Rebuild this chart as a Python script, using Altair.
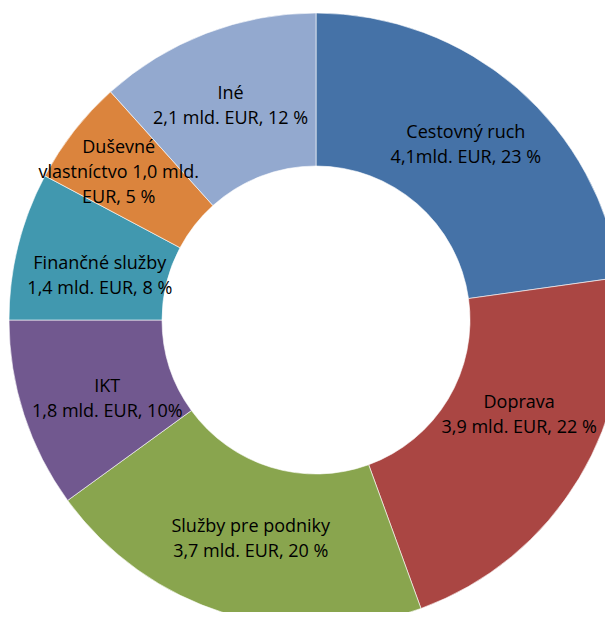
import altair as alt
import pandas as pd

categories = ["Cestovný ruch", "Doprava", "Služby pre podniky", "IKT",
              "Finančné služby", "Duševné vlastníctvo", "Iné"]
values = [4.1, 3.9, 3.7, 1.8, 1.4, 1.0, 2.1]
labels = [
    "Cestovný ruch\n4,1mld. EUR, 23 %",
    "Doprava\n3,9 mld. EUR, 22 %",
    "Služby pre podniky\n3,7 mld. EUR, 20 %",
    "IKT\n1,8 mld. EUR, 10%",
    "Finančné služby\n1,4 mld. EUR, 8 %",
    "Duševné\nvlastníctvo 1,0 mld.\nEUR, 5 %",
    "Iné\n2,1 mld. EUR, 12 %",
]
colors = ["#4572A7", "#AA4643", "#89A54E", "#71588F", "#4198AF", "#DB843D", "#93A9CF"]

df = pd.DataFrame({"cat": categories, "val": values, "label": labels,
                   "order": list(range(len(categories)))})

base = alt.Chart(df).encode(
    theta=alt.Theta("val:Q", stack=True),
    order=alt.Order("order:Q"),
    x=alt.value(308),
    y=alt.value(312),
)

arcs = base.mark_arc(outerRadius=307, innerRadius=154, stroke="white", strokeWidth=0.6).encode(
    color=alt.Color("cat:N", scale=alt.Scale(domain=categories, range=colors), legend=None)
)

# label nudges (pixels) relative to the slice's mid-angle anchor
nudges = {
    "Cestovný ruch": (-1, -1),
    "Doprava": (6, -23),
    "Služby pre podniky": (2, 0),
    "IKT": (10, 8),
    "Finančné služby": (7, 12),
    "Duševné vlastníctvo": (-16, -5),
    "Iné": (-3, 1),
}
line_h = 25
layers = [arcs]
for cat, lab in zip(categories, labels):
    ndx, ndy = nudges[cat]
    n_lines = lab.count("\n") + 1
    t = base.mark_text(radius=230, lineBreak="\n", fontSize=18, lineHeight=line_h,
                       font="Open Sans", color="black", align="center",
                       baseline="middle", dx=ndx,
                       dy=ndy - (n_lines - 1) * line_h / 2).encode(
        text=alt.condition(alt.datum.cat == cat, "label:N", alt.value(""))
    )
    layers.append(t)

chart = alt.layer(*layers).properties(
    width=597, height=604,
    autosize=alt.AutoSizeParams(type="none"),
    padding=0,
).configure_view(stroke=None)

chart.save("out.html", embed_options={"renderer": "svg", "actions": False})
